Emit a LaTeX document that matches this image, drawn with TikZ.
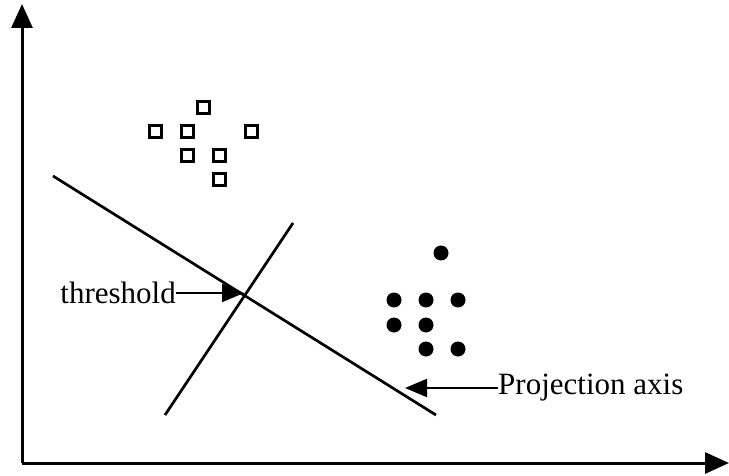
\documentclass[tikz,border=0pt]{standalone}
\usepackage{fontspec}
\setmainfont{Liberation Serif}
\usetikzlibrary{arrows.meta}
\begin{document}
\begin{tikzpicture}[x=1pt,y=-1pt,
  axisline/.style={line width=3pt,-{Triangle[length=24pt,width=21pt]}},
  plainline/.style={line width=2.7pt},
  labelarrow/.style={line width=2pt,-{Triangle[length=22pt,width=18pt]}},
  sq/.style={draw,line width=3pt,minimum size=12pt,inner sep=0pt,rectangle},
  dot/.style={fill,circle,minimum size=15pt,inner sep=0pt},
  lbl/.style={font=\fontsize{31}{34}\selectfont,inner sep=0pt}]
\useasboundingbox (0,0) rectangle (729,476);
% axes
\coordinate (o) at (22,463);
\coordinate (ytip) at (22,4);
\coordinate (xtip) at (729,463);
\draw[axisline] (o) -- (ytip);
\draw[axisline] (o) -- (xtip);
% lines
\coordinate (p1) at (53,176);
\coordinate (p2) at (436,415);
\coordinate (t1) at (165,415);
\coordinate (t2) at (293,223);
\draw[plainline] (p1) -- (p2);
\draw[plainline] (t1) -- (t2);
% squares
\foreach \n/\x/\y in {s1/203/108,s2/155/132,s3/187/132,s4/251/132,s5/187/156,s6/219/156,s7/219/180}
  \node[sq] (\n) at (\x,\y) {};
% dots
\foreach \n/\x/\y in {d1/441/253,d2/394/300,d3/426/300,d4/458/300,d5/394/325,d6/426/325,d7/426/349,d8/458/349}
  \node[dot] (\n) at (\x,\y) {};
% labels
\node[lbl,anchor=east] (thr) at (176,293) {threshold};
\coordinate (cross) at (244,293);
\draw[labelarrow] (thr.east) -- (cross);
\node[lbl,anchor=west] (proj) at (498,388) {Projection axis};
\coordinate (ptip) at (405,388);
\draw[labelarrow] (proj.west) -- (ptip);
\end{tikzpicture}
\end{document}
